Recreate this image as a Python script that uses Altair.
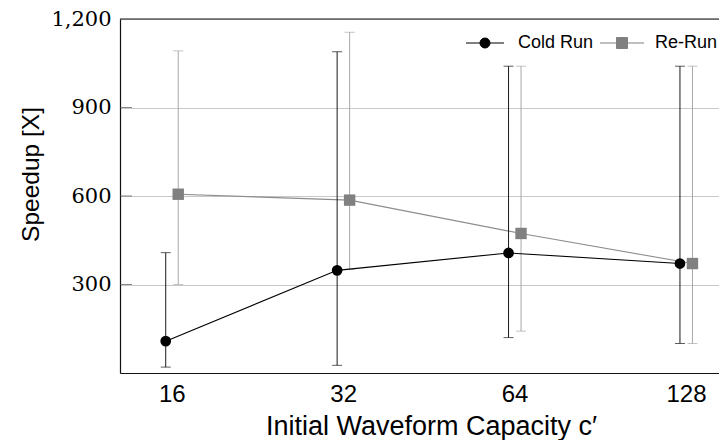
import altair as alt
import pandas as pd

# ---- data ----
capacity = [16, 32, 64, 128]
series_names = ["Cold Run", "Re-Run"]

cold_mean = [108, 348, 407, 371]
cold_low = [20, 26, 120, 100]
cold_high = [408, 1089, 1040, 1040]

rerun_mean = [606, 586, 473, 371]
rerun_low = [300, 351, 142, 100]
rerun_high = [1092, 1155, 1040, 1040]

y_ticks = [300, 600, 900, 1200]

def frame(name, mean, low, high):
    return pd.DataFrame({"capacity": capacity, "series": name,
                         "mean": mean, "low": low, "high": high})

cold_df = frame(series_names[0], cold_mean, cold_low, cold_high)
rerun_df = frame(series_names[1], rerun_mean, rerun_low, rerun_high)

colors = {"Cold Run": "#000000", "Re-Run": "#808080"}
err_colors = {"Cold Run": "#1a1a1a", "Re-Run": "#a8a8a8"}
line_colors = {"Cold Run": "#000000", "Re-Run": "#8c8c8c"}

SANS = "Liberation Sans, Arial, Helvetica, sans-serif"

xscale = alt.Scale(type="log", base=2, domain=[12.98, 146.3], nice=False)
yscale = alt.Scale(domain=[0, 1200], nice=False, zero=False)
cscale = alt.Scale(domain=series_names, range=[colors[s] for s in series_names])

cold_path = "M-1,0A1,1 0 1,0 1,0A1,1 0 1,0 -1,0Z M-3.8,0H-1 M1,0H3.8"
re_path = "M-1.1,-1.1H1.1V1.1H-1.1Z M-4.4,0H-1.1 M1.1,0H4.4"
sscale = alt.Scale(domain=series_names, range=[cold_path, re_path])

legend = alt.Legend(
    title=None, orient="none", direction="horizontal",
    legendX=356, legendY=15, padding=0,
    labelFont=SANS, labelFontSize=18, labelColor="#000",
    labelOffset=24, columnPadding=4, symbolSize=100,
    symbolStrokeWidth=1,
)

xaxis = alt.Axis(values=capacity, labelExpr="format(datum.value, 'd')", grid=False,
                 ticks=False, labelPadding=9,
                 labelFont=SANS, labelFontSize=24, labelColor="#000",
                 title="Initial Waveform Capacity c′",
                 titleFont=SANS, titleFontSize=27,
                 titleFontWeight="normal", titleColor="#000",
                 titleX=311, titleY=61, titleBaseline="alphabetic",
                 titleAlign="center",
                 domainColor="#111", domainWidth=1.2)
yaxis = alt.Axis(values=y_ticks, labelExpr="format(datum.value, ',')", grid=True,
                 gridColor="#c8c8c8", gridWidth=1,
                 ticks=False, labelPadding=9,
                 labelFont="DejaVu Serif", labelFontSize=21, labelColor="#000",
                 labelBaseline="middle",
                 title="Speedup [X]", titleAngle=270,
                 titleFont=SANS, titleFontSize=24.5,
                 titleFontWeight="normal", titleColor="#000",
                 titleX=-89, titleY=155, titleBaseline="middle",
                 titleAlign="center",
                 domainColor="#111", domainWidth=1.2)

xenc = alt.X("capacity:Q", scale=xscale, axis=xaxis)
yenc = alt.Y("mean:Q", scale=yscale, axis=yaxis)
col = alt.Color("series:N", scale=cscale, legend=legend)


def series_layers(df, name, offset, shape, size):
    base = alt.Chart(df)
    rule = base.mark_rule(color=err_colors[name], strokeWidth=1, xOffset=offset).encode(
        x=xenc, y=alt.Y("low:Q", scale=yscale, axis=yaxis), y2="high:Q")
    cap_lo = base.mark_tick(color=err_colors[name], orient="horizontal", size=10,
                            thickness=1, xOffset=offset).encode(
        x=xenc, y=alt.Y("low:Q", scale=yscale, axis=yaxis))
    cap_hi = base.mark_tick(color=err_colors[name], orient="horizontal", size=10,
                            thickness=1, xOffset=offset).encode(
        x=xenc, y=alt.Y("high:Q", scale=yscale, axis=yaxis))
    line = base.mark_line(color=line_colors[name], strokeWidth=1.1, xOffset=offset).encode(
        x=xenc, y=yenc)
    pts = base.mark_point(filled=True, shape=shape, size=size, opacity=1,
                          xOffset=offset).encode(x=xenc, y=yenc, color=col)
    return [rule, cap_lo, cap_hi, line, pts]

# legend carrier: same series, drawn outside the clipped plot area
carrier_df = pd.DataFrame({"capacity": [capacity[0]] * 2, "series": series_names,
                           "mean": [-5000, -5000]})
carrier = alt.Chart(carrier_df).mark_point(filled=False, strokeWidth=1, opacity=1,
                                           clip=True).encode(
    x=xenc, y=yenc, color=col,
    fill=alt.Fill("series:N", scale=cscale, legend=legend),
    shape=alt.Shape("series:N", scale=sscale, legend=legend),
)

# short inward major ticks on the left axis (pgfplots style)
inner_ticks = alt.Chart(pd.DataFrame({"v": y_ticks[:-1]})).mark_tick(
    orient="horizontal", size=12, thickness=1, color="#555").encode(
    x=alt.value(6), y=alt.Y("v:Q", scale=yscale, axis=yaxis))

top_rule = alt.Chart(pd.DataFrame({"v": [y_ticks[-1]]})).mark_rule(
    color="#111", strokeWidth=1.2).encode(y=alt.Y("v:Q", scale=yscale, axis=yaxis))

layers = ([carrier, inner_ticks]
          + series_layers(rerun_df, "Re-Run", 6.5, "square", 130)
          + series_layers(cold_df, "Cold Run", -6, "circle", 115)
          + [top_rule])

chart = alt.layer(*layers).properties(
    width=599, height=354,
    autosize=alt.AutoSizeParams(type="none"),
    padding={"left": 112, "top": 11, "right": 0, "bottom": 67},
).configure_view(stroke=None)

chart.save("out.html", embed_options={"renderer": "svg", "actions": False})
